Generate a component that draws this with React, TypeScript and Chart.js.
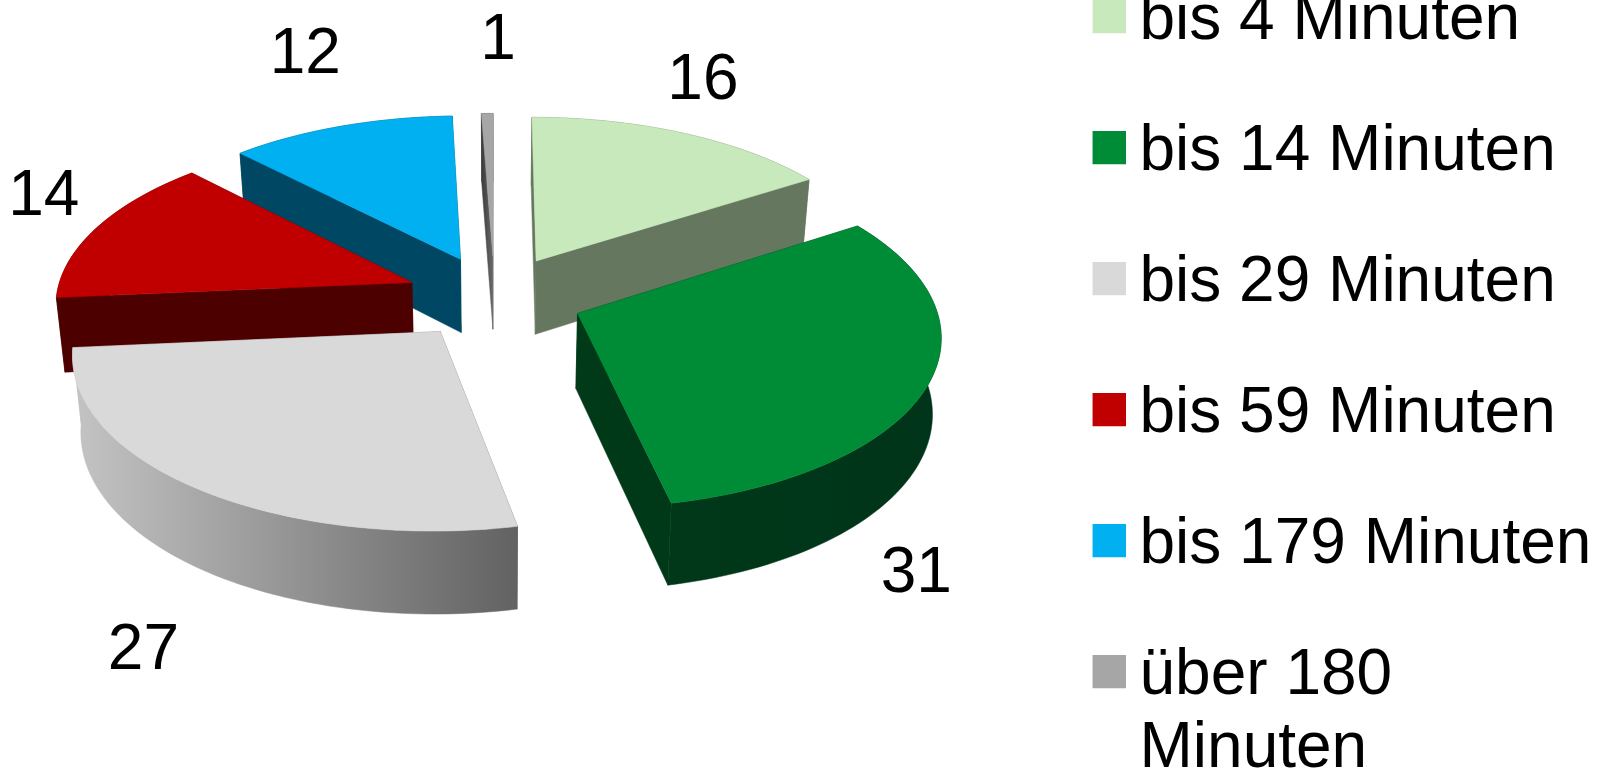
import React, { useEffect, useRef } from "react";
import { Chart, registerables } from "chart.js";

Chart.register(...registerables);

const categories: (string | string[])[] = [
  "bis 4 Minuten",
  "bis 14 Minuten",
  "bis 29 Minuten",
  "bis 59 Minuten",
  "bis 179 Minuten",
  ["über 180", "Minuten"],
];
const shares = [16, 31, 27, 14.3, 11.7, 0.6];
const topColors = ["#C8E9BC", "#008C36", "#D9D9D9", "#C00000", "#00B0F0", "#A6A6A6"];
const wallLeft = ["#65775E", "#003A18", "#C4C4C4", "#4D0000", "#004763", "#3A3A3A"];
const wallRight = ["#65775E", "#00341A", "#626262", "#4D0000", "#004763", "#6A6A6A"];
const labelDistance = [1.63, 1.714, 1.886, 1.497, 1.816, 1.817];
const labelTurnDeg = [-4.08, 32.07, -11.47, 3.99, 2.32, 1.18];

const EXPLODE = 0.25;
const VIEW = { x0: 494.5, cy: 297, a: 356, b: 168, k: 0.115 };
const FLOOR = { x0: 494.5, cy: 371.6, a: 349, b: 174, k: 0.115 };
const LABEL_VIEW = { x0: 497, cy: 294, a: 356, b: 168, k: 0.115 };
const FONT = '"Liberation Sans", Arial, sans-serif';

type P = [number, number];
const project = (plane: typeof VIEW, u: number, v: number): P => {
  const w = 1 + plane.k * v;
  return [plane.x0 + (plane.a * u) / w, plane.cy - (plane.b * v) / w];
};

const fillPoly = (ctx: CanvasRenderingContext2D, pts: P[], fill: string | CanvasGradient) => {
  ctx.beginPath();
  pts.forEach(([x, y], i) => (i ? ctx.lineTo(x, y) : ctx.moveTo(x, y)));
  ctx.closePath();
  ctx.fillStyle = fill;
  ctx.fill();
  ctx.strokeStyle = fill;
  ctx.lineWidth = 0.5;
  ctx.stroke();
};

const swatch = (color: string) => {
  const c = document.createElement("canvas");
  c.width = 36;
  c.height = 43;
  const g = c.getContext("2d")!;
  g.fillStyle = color;
  g.fillRect(3, 0, 33, 33);
  return c;
};

const pie3d = {
  id: "pie3d",
  beforeDraw(chart: any) {
    const legend = chart.legend;
    legend.left = 1040.5;
    legend.right = 1800;
    legend.top = -77.3;
    legend.bottom = 1400;
  },
  beforeDatasetsDraw(chart: any) {
    const ctx: CanvasRenderingContext2D = chart.ctx;
    const arcs = chart.getDatasetMeta(0).data;
    const slices = arcs.map((arc: any, i: number) => {
      const mid = (arc.startAngle + arc.endAngle) / 2;
      return {
        i,
        start: arc.startAngle,
        end: arc.endAngle,
        mid,
        ox: Math.cos(mid) * EXPLODE,
        oy: -Math.sin(mid) * EXPLODE,
      };
    });
    const order = [...slices].sort((p: any, q: any) => q.oy - p.oy);
    order.forEach((s: any) => {
      const rim: [number, number][] = [];
      const steps = Math.max(4, Math.ceil((s.end - s.start) * 40));
      for (let n = 0; n <= steps; n++) {
        const t = s.start + ((s.end - s.start) * n) / steps;
        rim.push([s.ox + Math.cos(t), s.oy - Math.sin(t)]);
      }
      const apexTop = project(VIEW, s.ox, s.oy);
      const apexLow = project(FLOOR, s.ox, s.oy);
      const top = rim.map(([u, v]) => project(VIEW, u, v));
      const low = rim.map(([u, v]) => project(FLOOR, u, v));
      const xs = [...top, ...low, apexTop, apexLow].map((p) => p[0]);
      const grad = ctx.createLinearGradient(Math.min(...xs), 0, Math.max(...xs), 0);
      grad.addColorStop(0, wallLeft[s.i]);
      grad.addColorStop(1, wallRight[s.i]);
      fillPoly(ctx, [...top, ...[...low].reverse()], grad);
      fillPoly(ctx, [apexTop, top[0], low[0], apexLow], grad);
      fillPoly(ctx, [apexTop, top[top.length - 1], low[low.length - 1], apexLow], grad);
      fillPoly(ctx, [apexTop, ...top], chart.data.datasets[0].backgroundColor[s.i]);
    });
    ctx.save();
    ctx.font = `64px ${FONT}`;
    ctx.fillStyle = "#000";
    ctx.textAlign = "center";
    ctx.textBaseline = "middle";
    slices.forEach((s: any) => {
      const t = s.mid + (labelTurnDeg[s.i] * Math.PI) / 180;
      const [x, y] = project(LABEL_VIEW, Math.cos(t) * labelDistance[s.i], -Math.sin(t) * labelDistance[s.i]);
      ctx.fillText(String(Math.round(chart.data.datasets[0].data[s.i])), x, y);
    });
    ctx.restore();
    return false;
  },
};

export default function App() {
  const ref = useRef<HTMLCanvasElement>(null);
  useEffect(() => {
    const chart = new Chart(ref.current!, {
      type: "pie",
      data: {
        labels: categories as any,
        datasets: [{ data: shares, backgroundColor: topColors, borderWidth: 0 }],
      },
      plugins: [pie3d as any],
      options: {
        animation: false,
        responsive: false,
        devicePixelRatio: 1,
        plugins: {
          tooltip: { enabled: false },
          legend: {
            position: "right",
            align: "start",
            labels: {
              usePointStyle: true,
              boxWidth: 0.01,
              boxHeight: 33,
              padding: 67,
              color: "#000",
              font: { family: FONT, size: 64, lineHeight: 1.13 },
              generateLabels(chart: any) {
                const items = (Chart as any).overrides.pie.plugins.legend.labels.generateLabels(chart);
                return items.map((it: any, i: number) => ({ ...it, pointStyle: swatch(topColors[i]) }));
              },
            },
          },
        },
      },
    } as any);
    return () => chart.destroy();
  }, []);
  return (
    <div style={{ position: "absolute", left: 0, top: 0, width: 1608, height: 772, overflow: "hidden", background: "#fff" }}>
      <canvas ref={ref} width={1608} height={772} style={{ display: "block" }} />
    </div>
  );
}
